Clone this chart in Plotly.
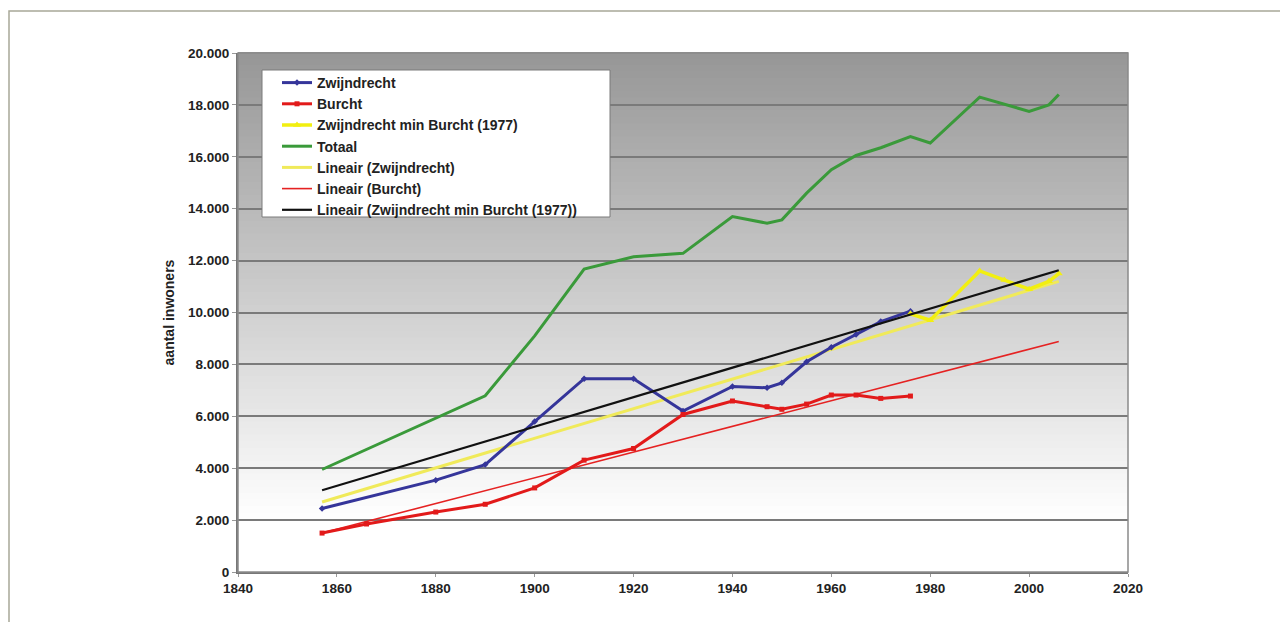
import plotly.graph_objects as go

# ---- data ----
zw_years = [1857, 1880, 1890, 1900, 1910, 1920, 1930, 1940, 1947, 1950, 1955, 1960, 1965, 1970, 1976]
zw_vals  = [2450, 3540, 4140, 5800, 7450, 7450, 6200, 7150, 7100, 7290, 8100, 8660, 9150, 9650, 10050]

bu_years = [1857, 1866, 1880, 1890, 1900, 1910, 1920, 1930, 1940, 1947, 1950, 1955, 1960, 1965, 1970, 1976]
bu_vals  = [1500, 1850, 2310, 2610, 3240, 4310, 4760, 6070, 6590, 6370, 6270, 6470, 6820, 6820, 6690, 6780]

zmb_years = [1976, 1980, 1990, 1995, 2000, 2004, 2006]
zmb_vals  = [9950, 9700, 11600, 11250, 10900, 11200, 11500]

tot_years = [1857, 1880, 1890, 1900, 1910, 1920, 1930, 1940, 1947, 1950, 1955, 1960, 1965, 1970, 1976, 1980, 1990, 2000, 2004, 2006]
tot_vals  = [3950, 5920, 6790, 9100, 11670, 12150, 12280, 13700, 13440, 13570, 14600, 15500, 16050, 16350, 16780, 16530, 18300, 17750, 18000, 18400]

trend_years = [1857, 2006]
trend_zw    = [2700, 11200]
trend_bu    = [1500, 8880]
trend_zmb   = [3150, 11630]

x_ticks = [1840, 1860, 1880, 1900, 1920, 1940, 1960, 1980, 2000, 2020]
y_ticks = [0, 2000, 4000, 6000, 8000, 10000, 12000, 14000, 16000, 18000, 20000]

names = ["Zwijndrecht", "Burcht", "Zwijndrecht min Burcht (1977)", "Totaal",
         "Lineair (Zwijndrecht)", "Lineair (Burcht)", "Lineair (Zwijndrecht min Burcht (1977))"]

BLUE = "#35359a"
RED = "#e21a1a"
YEL = "#f2ef10"
GRN = "#3a9a3a"
FONT = "Liberation Sans, Arial"

series = {
    names[0]: go.Scatter(x=zw_years, y=zw_vals, name=names[0], mode="lines+markers",
                         line=dict(color=BLUE, width=3), marker=dict(symbol="diamond", size=5, color=BLUE)),
    names[1]: go.Scatter(x=bu_years, y=bu_vals, name=names[1], mode="lines+markers",
                         line=dict(color=RED, width=3), marker=dict(symbol="square", size=5, color=RED)),
    names[2]: go.Scatter(x=zmb_years, y=zmb_vals, name=names[2], mode="lines+markers",
                         line=dict(color=YEL, width=3.5), marker=dict(symbol="triangle-up", size=7, color=YEL)),
    names[3]: go.Scatter(x=tot_years, y=tot_vals, name=names[3], mode="lines",
                         line=dict(color=GRN, width=3)),
    names[4]: go.Scatter(x=trend_years, y=trend_zw, name=names[4], mode="lines",
                         line=dict(color="#f0ea5a", width=3)),
    names[5]: go.Scatter(x=trend_years, y=trend_bu, name=names[5], mode="lines",
                         line=dict(color="#e52222", width=1.6)),
    names[6]: go.Scatter(x=trend_years, y=trend_zmb, name=names[6], mode="lines",
                         line=dict(color="#111111", width=2.2)),
}

fig = go.Figure()
# drawing order: trend lines for Zwijndrecht/Burcht under the data, black trend on top
for nm in [names[4], names[5], names[0], names[1], names[2], names[3], names[6]]:
    tr = series[nm]
    tr.legendrank = names.index(nm) + 1
    fig.add_trace(tr)

# geometry (the page body adds an 8px offset)
L, T, PW, PH = 230, 45, 890, 519

shapes = []
n = 80
top_c, bot_c = 150, 255
white_at = 0.9
for i in range(n):
    f0 = i / n
    f1 = (i + 1) / n
    frac = min(1.0, ((i + 0.5) / n) / white_at)
    c = int(round(top_c + (bot_c - top_c) * frac))
    shapes.append(dict(type="rect", xref="x domain", yref="y domain",
                       x0=0, x1=1, y0=1 - f1, y1=1 - f0 + 0.002,
                       fillcolor=f"rgb({c},{c},{c})", line=dict(width=0), layer="below"))
# outer frame
shapes.append(dict(type="rect", xref="paper", yref="paper",
                   x0=(1 - L) / PW, x1=(1274 - L) / PW, y0=-80 / PH, y1=1 + (T - 3) / PH,
                   line=dict(color="#a8a898", width=1.5), layer="below"))
# plot area border
shapes.append(dict(type="rect", xref="x domain", yref="y domain", x0=0, x1=1, y0=0, y1=1,
                   line=dict(color="#8a8a8a", width=1.5), layer="above"))
# legend box (ref: x 262..610, y 70..217 on screen)
shapes.append(dict(type="rect", xref="paper", yref="paper",
                   x0=(254 - L) / PW, x1=(602 - L) / PW,
                   y0=1 - (209 - T) / PH, y1=1 - (62 - T) / PH,
                   fillcolor="white", line=dict(color="#7a7a7a", width=1), layer="above"))

tickfont = dict(family=FONT, size=13.5, color="#222222", weight="bold")

fig.update_layout(
    width=1288, height=622,
    margin=dict(l=L, r=1288 - L - PW, t=T, b=622 - T - PH),
    paper_bgcolor="white",
    plot_bgcolor="white",
    separators=",.",
    shapes=shapes,
    showlegend=True,
    legend=dict(x=(269 - L) / PW, y=1 - (59 - T) / PH, xanchor="left", yanchor="top",
                bgcolor="rgba(0,0,0,0)", borderwidth=0,
                font=dict(family=FONT, size=14, color="#222222", weight="bold"),
                traceorder="normal", tracegroupgap=0, itemwidth=30),
    xaxis=dict(range=[1840, 2020], tickvals=x_ticks, ticktext=[str(v) for v in x_ticks],
               showgrid=False, zeroline=False, showline=True, linecolor="#777777", linewidth=2,
               ticks="outside", ticklen=3, tickcolor="#999999", tickfont=tickfont),
    yaxis=dict(range=[0, 20000], tickvals=y_ticks, tickformat=",d",
               showgrid=True, gridcolor="#7a7a7a", gridwidth=2,
               zeroline=False, showline=True, linecolor="#777777", linewidth=2,
               ticks="outside", ticklen=4, tickcolor="#999999", tickfont=tickfont,
               title=dict(text="aantal inwoners", standoff=10,
                          font=dict(family=FONT, size=14, color="#222222", weight="bold"))),
)

fig.write_html("out.html")
